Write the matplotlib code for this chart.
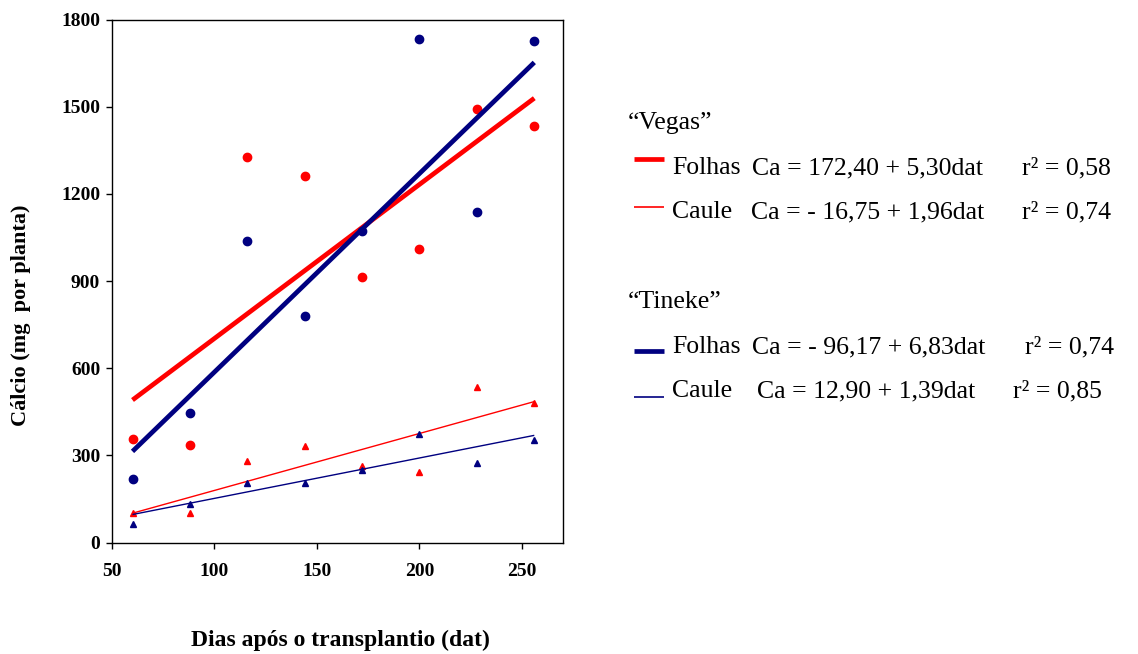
import numpy as np
import matplotlib
matplotlib.use('Agg')
import matplotlib.pyplot as plt

plt.rcParams['font.family'] = ['Liberation Serif', 'DejaVu Serif']

# days after transplanting
dat = [60, 88, 116, 144, 172, 200, 228, 256]

# measured calcium (mg per plant)
vegas_folhas = [355, 334, 1326, 1261, 915, 1010, 1492, 1433]
vegas_caule = [101, 101, 282, 332, 263, 241, 534, 480]
tineke_folhas = [218, 445, 1039, 779, 1072, 1734, 1137, 1726]
tineke_caule = [63, 133, 205, 205, 249, 374, 274, 352]

# regression coefficients (intercept, slope) and r2
vegas_folhas_fit = (172.40, 5.30, 0.58)
vegas_caule_fit = (-16.75, 1.96, 0.74)
tineke_folhas_fit = (-96.17, 6.83, 0.74)
tineke_caule_fit = (12.90, 1.39, 0.85)

RED = '#FF0000'
NAVY = '#000080'

W, H = 1138, 654
fig = plt.figure(figsize=(W / 100, H / 100), dpi=100)

def px(x, y):
    # pixel coords (from top left) to figure fraction
    return x / W, 1 - y / H

ax = fig.add_axes([112 / W, 1 - 542.5 / H, (563 - 112) / W, (542.5 - 19.5) / H])

xfit = np.array([dat[0], dat[-1]])
series = [
    (vegas_folhas, vegas_folhas_fit, RED, 'o', 6, 3.4),
    (tineke_folhas, tineke_folhas_fit, NAVY, 'o', 6, 3.4),
    (vegas_caule, vegas_caule_fit, RED, '^', 4.5, 1.0),
    (tineke_caule, tineke_caule_fit, NAVY, '^', 4.5, 1.0),
]
for vals, fit, col, mk, ms, lw in series:
    ax.plot(dat, vals, linestyle='none', marker=mk, ms=ms, color=col, mec=col)
    ax.plot(xfit, fit[0] + fit[1] * xfit, color=col, lw=lw, solid_capstyle='butt')

ax.set_xlim(50, 270)
ax.set_ylim(0, 1800)
ax.set_xticks([50, 100, 150, 200, 250])
ax.set_yticks(np.arange(0, 1801, 300))
ax.tick_params(direction='out', length=4.5, width=1, labelsize=14, top=False, right=False)
ax.tick_params(axis='x', pad=10)
ax.tick_params(axis='y', pad=4)
for lab in ax.get_xticklabels() + ax.get_yticklabels():
    lab.set_fontweight('bold')
for s in ax.spines.values():
    s.set_linewidth(1.0)

fig.text(*px(340, 640), 'Dias após o transplantio (dat)', ha='center', va='center',
         fontsize=17, fontweight='bold')
fig.text(*px(21, 315), 'Cálcio (mg  por planta)', ha='center', va='center',
         fontsize=16, fontweight='bold', rotation=90)


def fmt(v):
    s = f'{abs(v):.2f}'.replace('.', ',')
    return ('- ' + s) if v < 0 else s


def eq(fit):
    return f'Ca = {fmt(fit[0])} + {fmt(fit[1])}dat'


def r2(fit):
    return 'r\u00b2 = ' + f'{fit[2]:.2f}'.replace('.', ',')


FS = 18.5
fig.text(*px(628, 123), '\u201cVegas\u201d', ha='left', va='center', fontsize=FS)
fig.text(*px(628, 302), '\u201cTineke\u201d', ha='left', va='center', fontsize=FS)

legend_rows = [
    # (line y, text y, colour, lw, name, fit, eq x, r2 x)
    (159, 168, RED, 3.4, 'Folhas', vegas_folhas_fit, 752, 1022),
    (206.5, 212, RED, 1.2, 'Caule', vegas_caule_fit, 751, 1022),
    (350.5, 347, NAVY, 3.4, 'Folhas', tineke_folhas_fit, 752, 1025),
    (397, 391, NAVY, 1.2, 'Caule', tineke_caule_fit, 757, 1013),
]
for ly, ty, col, lw, name, fit, ex, rx in legend_rows:
    x0, y0 = px(634, ly)
    x1, _ = px(664, ly)
    fig.add_artist(plt.Line2D([x0, x1], [y0, y0], color=col, lw=lw,
                              solid_capstyle='butt', transform=fig.transFigure))
    fig.text(*px(672, ty), name, ha='left', va='center', fontsize=FS)
    fig.text(*px(ex, ty), eq(fit), ha='left', va='center', fontsize=FS)
    fig.text(*px(rx, ty), r2(fit), ha='left', va='center', fontsize=FS)

fig.savefig('out.png', dpi=100)
